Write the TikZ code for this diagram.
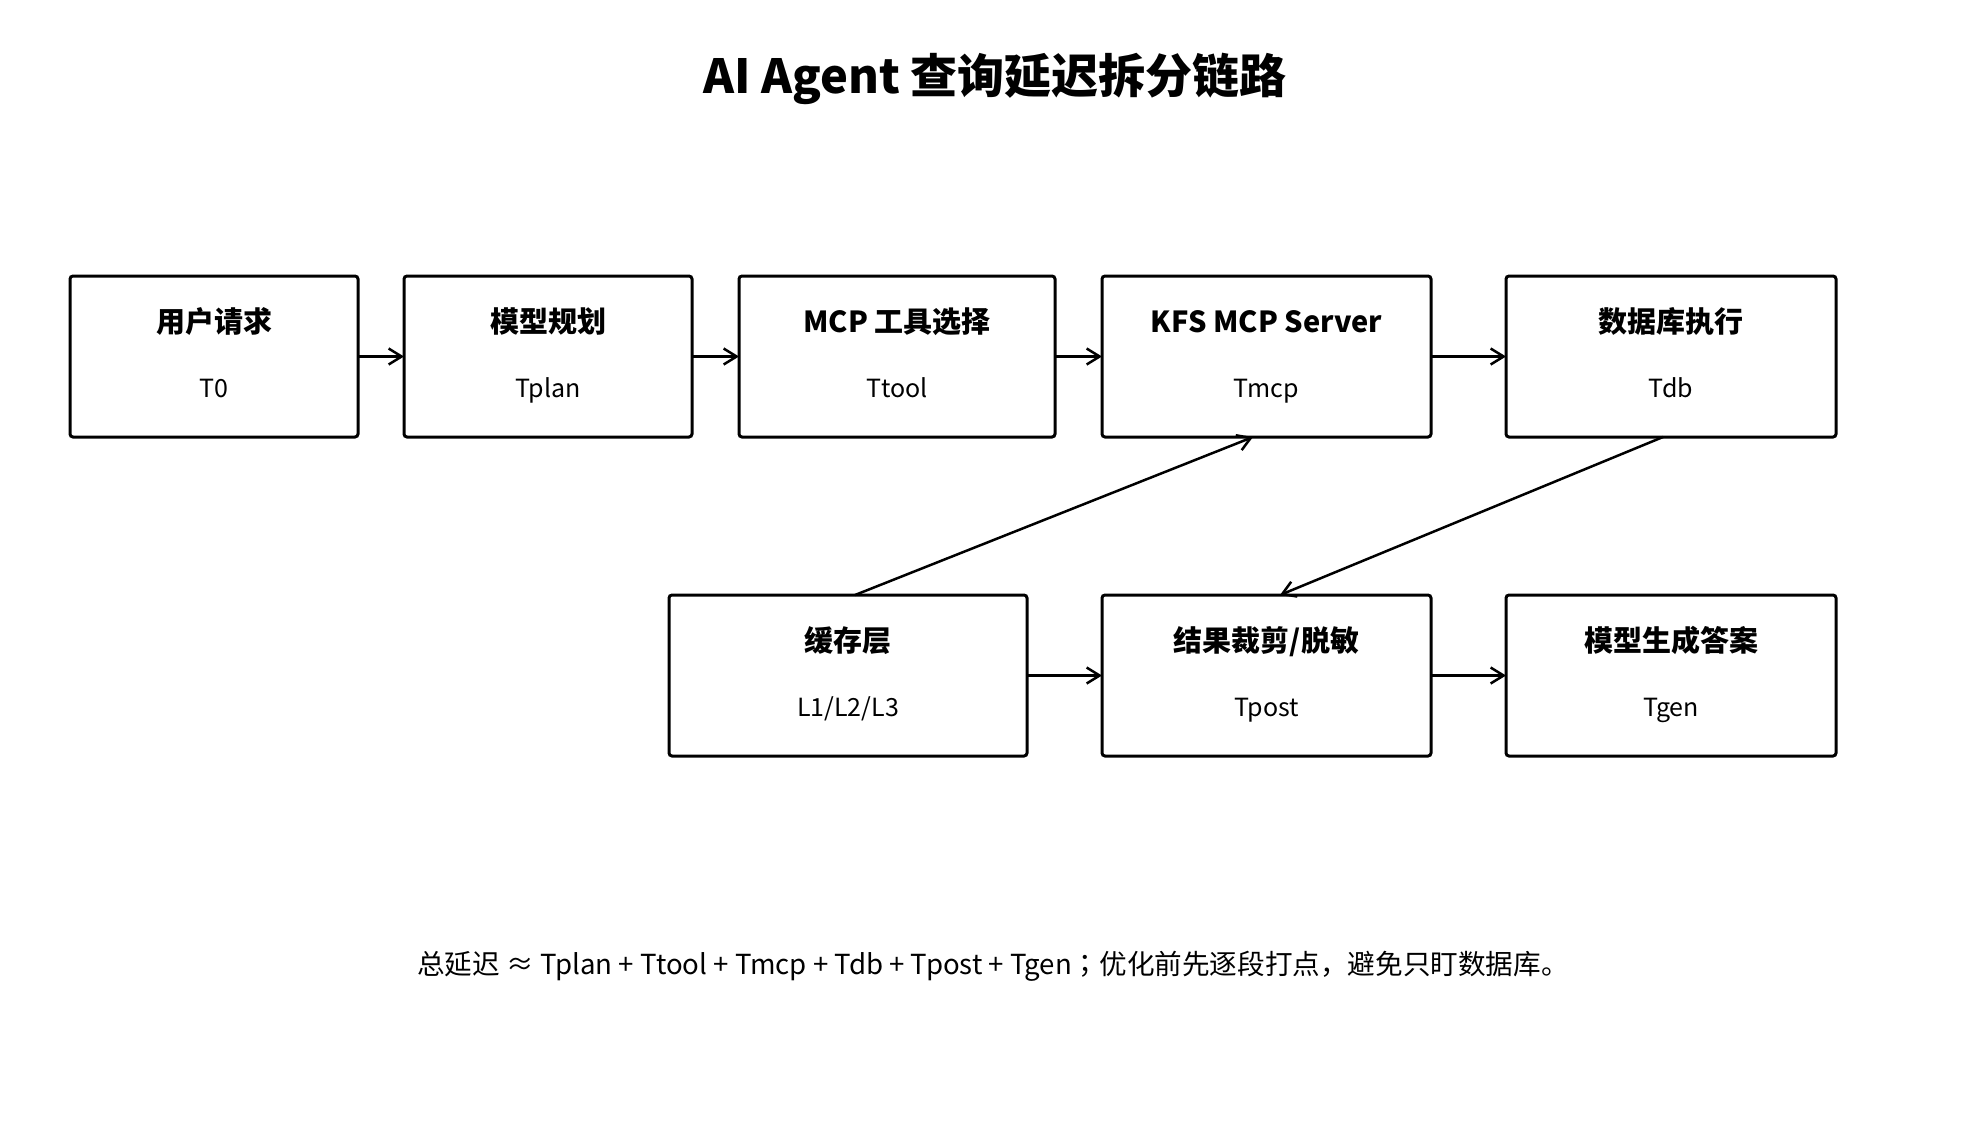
\documentclass[tikz,border=0pt]{standalone}
\usepackage{fontspec}
\setmainfont{Noto Sans CJK SC}
\newfontfamily\jpfont{Noto Sans CJK JP}
\usetikzlibrary{arrows.meta}
\begin{document}
\begin{tikzpicture}[x=1pt,y=-1pt,
  box/.style={draw=black, line width=3pt, rounded corners=3pt, minimum height=161pt, inner sep=0pt, outer sep=0pt},
  ttl/.style={anchor=base, inner sep=0pt, font=\fontsize{29}{35}\selectfont\bfseries},
  sub/.style={anchor=base, inner sep=0pt, font=\fontsize{25}{30}\selectfont},
  conn/.style={line width=2.5pt, -{Straight Barb[length=13pt,width=16pt,line width=2.5pt]}}
]
\useasboundingbox[fill=white] (0,0) rectangle (1988,1144);

\node[anchor=base, inner sep=0pt, font=\fontsize{47}{55}\selectfont\bfseries] (title) at (995,93) {AI Agent 查询延迟拆分链路};

% top row
\node[box, minimum width=288pt] (b1) at (214,356.5) {};
\node[box, minimum width=288pt] (b2) at (548,356.5) {};
\node[box, minimum width=316pt] (b3) at (897,356.5) {};
\node[box, minimum width=329pt] (b4) at (1266.5,356.5) {};
\node[box, minimum width=330pt] (b5) at (1671,356.5) {};
% bottom row
\node[box, minimum width=358pt] (b6) at (848,675.5) {};
\node[box, minimum width=329pt] (b7) at (1266.5,675.5) {};
\node[box, minimum width=330pt] (b8) at (1671,675.5) {};

\foreach \n/\t/\s in {b1/用户请求/T0, b2/模型规划/Tplan, b3/MCP 工具选择/Ttool, b4/KFS MCP Server/Tmcp, b5/数据库执行/Tdb, b6/缓存层/L1\slash L2\slash L3, b7/结果裁剪\slash 脱敏/Tpost, b8/模型生成答案/Tgen}{
  \node[ttl] (\n t) at ([yshift=24.5pt]\n.center) {\t};
  \node[sub] (\n s) at ([yshift=-40.5pt]\n.center) {\s};
}

\draw[conn] (b1.east) -- (b2.west);
\draw[conn] (b2.east) -- (b3.west);
\draw[conn] (b3.east) -- (b4.west);
\draw[conn] (b4.east) -- (b5.west);
\draw[conn] (b6.east) -- (b7.west);
\draw[conn] (b7.east) -- (b8.west);
\draw[conn] ([xshift=7pt]b6.north) -- ([xshift=-13.5pt]b4.south);
\draw[conn] ([xshift=-8pt]b5.south) -- ([xshift=13.5pt]b7.north);

\node[anchor=base, inner sep=0pt, font=\fontsize{27.6}{33}\selectfont] (note) at (993,974) {总延迟 ≈ Tplan + Ttool + Tmcp + Tdb + Tpost + Tgen{\jpfont ；}优化前先逐段打点，避免只盯数据库。};
\end{tikzpicture}
\end{document}
